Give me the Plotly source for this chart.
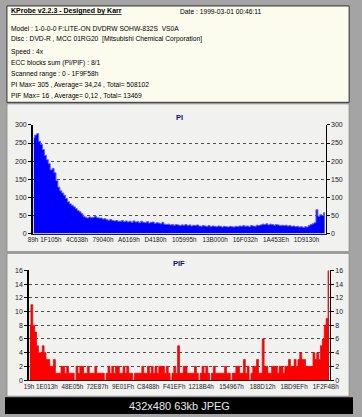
import plotly.graph_objects as go

W, H = 362, 417

# ---------------- data ----------------
SCAN_END = 0x1F9F58

header_title = "KProbe v2.2.3 - Designed by Karr"
header_date = "Date : 1999-03-01 00:46:11"
header_lines = [
    "Model : 1-0-0-0 F:LITE-ON DVDRW SOHW-832S\u00a0\u00a0VS0A",
    "Disc : DVD-R , MCC 01RG20\u00a0\u00a0[Mitsubishi Chemical Corporation]",
    "Speed : 4x",
    "ECC blocks sum (PI/PIF) : 8/1",
    "Scanned range : 0 - 1F9F58h",
    "PI Max= 305 , Average= 34,24 , Total= 508102",
    "PIF Max= 16 , Average= 0,12 , Total= 13469",
]

pi_values = [
    265, 272, 276, 255, 246, 232, 216, 204, 193, 176,
    180, 168, 146, 128, 118, 112, 106, 97, 88, 82,
    78, 74, 69, 64, 60, 55, 48, 45, 43, 46,
    44, 45, 48, 44, 43, 43, 40, 41, 38, 37,
    39, 36, 35, 36, 34, 34, 36, 33, 35, 32,
    34, 31, 35, 32, 33, 30, 34, 31, 30, 33,
    29, 31, 32, 28, 30, 29, 27, 31, 26, 25,
    26, 24, 25, 23, 25, 24, 22, 24, 23, 25,
    22, 24, 21, 23, 22, 24, 21, 20, 22, 21,
    20, 22, 19, 21, 20, 19, 21, 20, 18, 20,
    19, 18, 20, 19, 18, 20, 19, 21, 20, 22,
    20, 21, 19, 22, 21, 20, 23, 22, 24, 26,
    25, 27, 24, 26, 25, 23, 25, 24, 22, 23,
    22, 23, 21, 22, 20, 21, 19, 20, 18, 19,
    17, 19, 18, 22, 25, 27, 30, 66, 48, 52,
    50, 58,
]

pif_values = [
    8, 11, 8, 7, 5, 4, 4, 5, 4, 3,
    3, 2, 2, 3, 1, 1, 1, 2, 2, 1,
    2, 1, 1, 1, 0, 2, 1, 2, 2, 1,
    1, 2, 1, 1, 1, 2, 1, 1, 1, 1,
    0, 1, 2, 1, 2, 1, 2, 2, 1, 1,
    2, 1, 2, 1, 1, 0, 1, 1, 1, 1,
    2, 1, 1, 2, 1, 2, 1, 2, 1, 2,
    2, 2, 1, 2, 1, 0, 1, 2, 1, 5,
    1, 1, 2, 2, 1, 1, 1, 1, 2, 1,
    0, 1, 2, 1, 2, 1, 0, 1, 2, 1,
    1, 1, 1, 1, 2, 1, 1, 0, 1, 1,
    2, 2, 1, 1, 3, 1, 2, 0, 1, 2,
    2, 3, 1, 1, 6, 2, 2, 1, 1, 2,
    2, 2, 1, 2, 2, 1, 2, 2, 3, 2,
    2, 3, 2, 3, 4, 3, 3, 2, 2, 2,
    2, 4, 3, 4, 3, 5, 6, 8, 9, 16,
]

pi_ticks = ["89h", "1F105h", "4C638h", "79040h", "A6169h", "D4180h",
            "105995h", "13B000h", "16F032h", "1A453Eh", "1D9130h"]
pif_ticks = ["19h", "1E013h", "48E05h", "72E87h", "9E01Fh", "C8488h",
             "F41EFh", "1218B4h", "154967h", "188D12h", "1BD9EFh", "1F2F4Bh"]

# sample addresses (evenly spaced over the scanned range)
pi_step = SCAN_END / len(pi_values)
pi_x = [(i + 0.5) * pi_step for i in range(len(pi_values))]
pif_step = SCAN_END / len(pif_values)
pif_x = [(i + 0.5) * pif_step for i in range(len(pif_values))]

pi_tickvals = [int(t[:-1], 16) for t in pi_ticks]
pif_tickvals = [int(t[:-1], 16) for t in pif_ticks]


def px(x):
    return x / W


def py(y):
    return 1 - y / H


FONT = "Liberation Sans, Arial, sans-serif"

fig = go.Figure()
fig.add_trace(go.Scatter(x=pi_x, y=pi_values, mode="lines", line_shape="hvh",
                         line=dict(color="#5a5aff", width=1), fill="tozeroy", fillcolor="#0000ff",
                         xaxis="x", yaxis="y", showlegend=False, hoverinfo="skip"))
fig.add_trace(go.Scatter(x=pi_x, y=pi_values, mode="lines", line=dict(width=0), opacity=0,
                         xaxis="x", yaxis="y3", showlegend=False, hoverinfo="skip"))
fig.add_trace(go.Scatter(x=pif_x, y=pif_values, mode="lines", line_shape="hvh",
                         line=dict(color="#e01010", width=0.8), fill="tozeroy", fillcolor="#ff0000",
                         xaxis="x2", yaxis="y2", showlegend=False, hoverinfo="skip"))
fig.add_trace(go.Scatter(x=pif_x, y=pif_values, mode="lines", line=dict(width=0), opacity=0,
                         xaxis="x2", yaxis="y4", showlegend=False, hoverinfo="skip"))

tickfont = dict(family=FONT, size=7, color="#202020")
xtickfont = dict(family=FONT, size=6.3, color="#202020")
grid = dict(showgrid=True, gridcolor="#505050", griddash="dot", gridwidth=1)

pi_dom_x = [px(29), px(333.5)]
pi_dom_y = [py(233.5), py(123)]
pif_dom_x = [px(25), px(338)]
pif_dom_y = [py(382.5), py(271)]

fig.update_layout(
    width=W, height=H,
    margin=dict(l=0, r=0, t=0, b=0),
    paper_bgcolor="#a4a4a4",
    plot_bgcolor="#eeeef9",
    xaxis=dict(domain=pi_dom_x, anchor="y", range=[0, SCAN_END], tickmode="array",
               tickvals=pi_tickvals, ticktext=pi_ticks, tickfont=xtickfont, ticks="",
               tickangle=0, showgrid=False, showline=True, linecolor="#202020", linewidth=1,
               zeroline=False),
    yaxis=dict(domain=pi_dom_y, anchor="x", range=[0, 300], tickvals=[0, 50, 100, 150, 200, 250, 300],
               tickfont=tickfont, ticks="outside", ticklen=3, tickcolor="#000000",
               showline=True, linecolor="#000000", linewidth=1.5, zeroline=False, **grid),
    yaxis3=dict(overlaying="y", side="right", anchor="x", range=[0, 300],
                tickvals=[0, 50, 100, 150, 200, 250, 300], tickfont=tickfont,
                ticks="outside", ticklen=3, tickcolor="#000000", showgrid=False,
                showline=True, linecolor="#000000", linewidth=1, zeroline=False),
    xaxis2=dict(domain=pif_dom_x, anchor="y2", range=[0, SCAN_END], tickmode="array",
                tickvals=pif_tickvals, ticktext=pif_ticks, tickfont=xtickfont, ticks="",
                tickangle=0, showgrid=False, showline=True, linecolor="#202020", linewidth=1,
                zeroline=False),
    yaxis2=dict(domain=pif_dom_y, anchor="x2", range=[0, 16], tickvals=list(range(0, 17, 2)),
                tickfont=tickfont, ticks="outside", ticklen=3, tickcolor="#000000",
                showline=True, linecolor="#000000", linewidth=1.5, zeroline=False, **grid),
    yaxis4=dict(overlaying="y2", side="right", anchor="x2", range=[0, 16],
                tickvals=list(range(0, 17, 2)), tickfont=tickfont,
                ticks="outside", ticklen=3, tickcolor="#000000", showgrid=False,
                showline=True, linecolor="#000000", linewidth=1, zeroline=False),
)

shapes = [
    dict(type="rect", xref="paper", yref="paper", x0=px(2), x1=px(358), y0=py(100), y1=py(2),
         fillcolor="#fbfbee", line=dict(color="#303030", width=1), layer="below"),
    dict(type="rect", xref="paper", yref="paper", x0=px(2), x1=px(358), y0=py(252), y1=py(101.5),
         fillcolor="#f1f1f0", line=dict(color="#8c8c8c", width=1), layer="below"),
    dict(type="rect", xref="paper", yref="paper", x0=px(2), x1=px(358), y0=py(399), y1=py(253.5),
         fillcolor="#f1f1f0", line=dict(color="#8c8c8c", width=1), layer="below"),
    dict(type="rect", xref="paper", yref="paper", x0=0, x1=1, y0=0, y1=py(400),
         fillcolor="#000000", line=dict(width=0), layer="below"),
]

HF = 6.7
annotations = [
    dict(text="<b><u>" + header_title + "</u></b>", x=px(4), y=py(7.5), xref="paper", yref="paper",
         xanchor="left", yanchor="middle", showarrow=False,
         font=dict(family=FONT, size=7, color="#000000")),
    dict(text=header_date, x=px(180), y=py(7.5), xref="paper", yref="paper",
         xanchor="left", yanchor="middle", showarrow=False,
         font=dict(family=FONT, size=HF, color="#000000")),
    dict(text="<b>PI</b>", x=(pi_dom_x[0] + pi_dom_x[1]) / 2, y=py(115), xref="paper", yref="paper",
         xanchor="center", yanchor="middle", showarrow=False,
         font=dict(family=FONT, size=7.5, color="#10106a")),
    dict(text="<b>PIF</b>", x=(pif_dom_x[0] + pif_dom_x[1]) / 2, y=py(264), xref="paper", yref="paper",
         xanchor="center", yanchor="middle", showarrow=False,
         font=dict(family=FONT, size=7.5, color="#10106a")),
    dict(text="432x480 63kb JPEG", x=0.5, y=py(409), xref="paper", yref="paper",
         xanchor="center", yanchor="middle", showarrow=False,
         font=dict(family=FONT, size=11, color="#e8e8e8")),
]
line_y = [25.3, 35.8, 48.7, 60.5, 71, 82, 93.3]
for t, yy in zip(header_lines, line_y):
    annotations.append(dict(text=t, x=px(4), y=py(yy), xref="paper", yref="paper",
                            xanchor="left", yanchor="middle", showarrow=False,
                            font=dict(family=FONT, size=HF, color="#000000")))

fig.update_layout(shapes=shapes, annotations=annotations)
fig.write_html("out.html", config={"displayModeBar": False},
               post_script="document.body.style.margin='0px';document.body.style.overflow='hidden';")
